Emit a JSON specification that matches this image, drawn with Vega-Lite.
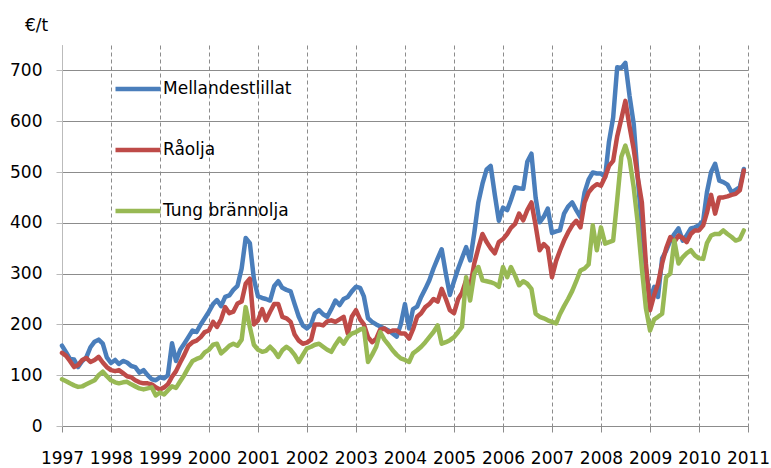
{
 "$schema": "https://vega.github.io/schema/vega-lite/v6.json",
 "width": 686,
 "height": 381,
 "autosize": {"type": "none"},
 "padding": {"left": 62, "top": 45, "right": 23, "bottom": 42},
 "background": "white",
 "config": {"font": "DejaVu Sans", "view": {"stroke": null}},
 "data": {"values": [
{"date":"1997-01-01","Mellandestlillat":158,"Råolja":144,"Tung brännolja":92},
{"date":"1997-02-01","Mellandestlillat":145,"Råolja":138,"Tung brännolja":88},
{"date":"1997-03-01","Mellandestlillat":132,"Råolja":128,"Tung brännolja":84},
{"date":"1997-04-01","Mellandestlillat":131,"Råolja":116,"Tung brännolja":80},
{"date":"1997-05-01","Mellandestlillat":116,"Råolja":120,"Tung brännolja":77},
{"date":"1997-06-01","Mellandestlillat":128,"Råolja":130,"Tung brännolja":78},
{"date":"1997-07-01","Mellandestlillat":135,"Råolja":134,"Tung brännolja":82},
{"date":"1997-08-01","Mellandestlillat":155,"Råolja":126,"Tung brännolja":86},
{"date":"1997-09-01","Mellandestlillat":166,"Råolja":130,"Tung brännolja":90},
{"date":"1997-10-01","Mellandestlillat":170,"Råolja":136,"Tung brännolja":100},
{"date":"1997-11-01","Mellandestlillat":162,"Råolja":125,"Tung brännolja":107},
{"date":"1997-12-01","Mellandestlillat":135,"Råolja":116,"Tung brännolja":98},
{"date":"1998-01-01","Mellandestlillat":124,"Råolja":110,"Tung brännolja":90},
{"date":"1998-02-01","Mellandestlillat":130,"Råolja":108,"Tung brännolja":86},
{"date":"1998-03-01","Mellandestlillat":122,"Råolja":110,"Tung brännolja":84},
{"date":"1998-04-01","Mellandestlillat":128,"Råolja":104,"Tung brännolja":86},
{"date":"1998-05-01","Mellandestlillat":125,"Råolja":98,"Tung brännolja":87},
{"date":"1998-06-01","Mellandestlillat":118,"Råolja":96,"Tung brännolja":82},
{"date":"1998-07-01","Mellandestlillat":116,"Råolja":90,"Tung brännolja":78},
{"date":"1998-08-01","Mellandestlillat":105,"Råolja":86,"Tung brännolja":74},
{"date":"1998-09-01","Mellandestlillat":110,"Råolja":84,"Tung brännolja":72},
{"date":"1998-10-01","Mellandestlillat":100,"Råolja":84,"Tung brännolja":74},
{"date":"1998-11-01","Mellandestlillat":92,"Råolja":82,"Tung brännolja":76},
{"date":"1998-12-01","Mellandestlillat":90,"Råolja":76,"Tung brännolja":60},
{"date":"1999-01-01","Mellandestlillat":96,"Råolja":72,"Tung brännolja":66},
{"date":"1999-02-01","Mellandestlillat":94,"Råolja":76,"Tung brännolja":62},
{"date":"1999-03-01","Mellandestlillat":100,"Råolja":82,"Tung brännolja":70},
{"date":"1999-04-01","Mellandestlillat":163,"Råolja":97,"Tung brännolja":78},
{"date":"1999-05-01","Mellandestlillat":128,"Råolja":108,"Tung brännolja":75},
{"date":"1999-06-01","Mellandestlillat":150,"Råolja":125,"Tung brännolja":88},
{"date":"1999-07-01","Mellandestlillat":162,"Råolja":140,"Tung brännolja":100},
{"date":"1999-08-01","Mellandestlillat":175,"Råolja":158,"Tung brännolja":115},
{"date":"1999-09-01","Mellandestlillat":188,"Råolja":165,"Tung brännolja":128},
{"date":"1999-10-01","Mellandestlillat":185,"Råolja":168,"Tung brännolja":132},
{"date":"1999-11-01","Mellandestlillat":200,"Råolja":175,"Tung brännolja":135},
{"date":"1999-12-01","Mellandestlillat":212,"Råolja":185,"Tung brännolja":145},
{"date":"2000-01-01","Mellandestlillat":225,"Råolja":188,"Tung brännolja":150},
{"date":"2000-02-01","Mellandestlillat":240,"Råolja":205,"Tung brännolja":160},
{"date":"2000-03-01","Mellandestlillat":248,"Råolja":195,"Tung brännolja":162},
{"date":"2000-04-01","Mellandestlillat":236,"Råolja":210,"Tung brännolja":143},
{"date":"2000-05-01","Mellandestlillat":254,"Råolja":234,"Tung brännolja":150},
{"date":"2000-06-01","Mellandestlillat":257,"Råolja":222,"Tung brännolja":158},
{"date":"2000-07-01","Mellandestlillat":268,"Råolja":225,"Tung brännolja":162},
{"date":"2000-08-01","Mellandestlillat":276,"Råolja":241,"Tung brännolja":158},
{"date":"2000-09-01","Mellandestlillat":310,"Råolja":245,"Tung brännolja":170},
{"date":"2000-10-01","Mellandestlillat":370,"Råolja":280,"Tung brännolja":234},
{"date":"2000-11-01","Mellandestlillat":360,"Råolja":290,"Tung brännolja":195},
{"date":"2000-12-01","Mellandestlillat":290,"Råolja":200,"Tung brännolja":160},
{"date":"2001-01-01","Mellandestlillat":255,"Råolja":208,"Tung brännolja":150},
{"date":"2001-02-01","Mellandestlillat":252,"Råolja":230,"Tung brännolja":146},
{"date":"2001-03-01","Mellandestlillat":250,"Råolja":208,"Tung brännolja":148},
{"date":"2001-04-01","Mellandestlillat":247,"Råolja":225,"Tung brännolja":156},
{"date":"2001-05-01","Mellandestlillat":275,"Råolja":240,"Tung brännolja":148},
{"date":"2001-06-01","Mellandestlillat":285,"Råolja":240,"Tung brännolja":136},
{"date":"2001-07-01","Mellandestlillat":272,"Råolja":215,"Tung brännolja":149},
{"date":"2001-08-01","Mellandestlillat":268,"Råolja":212,"Tung brännolja":156},
{"date":"2001-09-01","Mellandestlillat":265,"Råolja":205,"Tung brännolja":150},
{"date":"2001-10-01","Mellandestlillat":240,"Råolja":180,"Tung brännolja":140},
{"date":"2001-11-01","Mellandestlillat":215,"Råolja":168,"Tung brännolja":126},
{"date":"2001-12-01","Mellandestlillat":198,"Råolja":162,"Tung brännolja":140},
{"date":"2002-01-01","Mellandestlillat":192,"Råolja":164,"Tung brännolja":153},
{"date":"2002-02-01","Mellandestlillat":200,"Råolja":170,"Tung brännolja":156},
{"date":"2002-03-01","Mellandestlillat":222,"Råolja":200,"Tung brännolja":160},
{"date":"2002-04-01","Mellandestlillat":228,"Råolja":200,"Tung brännolja":162},
{"date":"2002-05-01","Mellandestlillat":220,"Råolja":198,"Tung brännolja":156},
{"date":"2002-06-01","Mellandestlillat":215,"Råolja":206,"Tung brännolja":150},
{"date":"2002-07-01","Mellandestlillat":230,"Råolja":208,"Tung brännolja":146},
{"date":"2002-08-01","Mellandestlillat":247,"Råolja":205,"Tung brännolja":160},
{"date":"2002-09-01","Mellandestlillat":238,"Råolja":210,"Tung brännolja":172},
{"date":"2002-10-01","Mellandestlillat":250,"Råolja":215,"Tung brännolja":162},
{"date":"2002-11-01","Mellandestlillat":254,"Råolja":182,"Tung brännolja":175},
{"date":"2002-12-01","Mellandestlillat":265,"Råolja":215,"Tung brännolja":182},
{"date":"2003-01-01","Mellandestlillat":274,"Råolja":228,"Tung brännolja":185},
{"date":"2003-02-01","Mellandestlillat":272,"Råolja":210,"Tung brännolja":190},
{"date":"2003-03-01","Mellandestlillat":255,"Råolja":200,"Tung brännolja":192},
{"date":"2003-04-01","Mellandestlillat":212,"Råolja":175,"Tung brännolja":126},
{"date":"2003-05-01","Mellandestlillat":205,"Råolja":165,"Tung brännolja":140},
{"date":"2003-06-01","Mellandestlillat":200,"Råolja":172,"Tung brännolja":156},
{"date":"2003-07-01","Mellandestlillat":196,"Råolja":190,"Tung brännolja":185},
{"date":"2003-08-01","Mellandestlillat":192,"Råolja":192,"Tung brännolja":170},
{"date":"2003-09-01","Mellandestlillat":188,"Råolja":185,"Tung brännolja":160},
{"date":"2003-10-01","Mellandestlillat":182,"Råolja":188,"Tung brännolja":149},
{"date":"2003-11-01","Mellandestlillat":176,"Råolja":188,"Tung brännolja":140},
{"date":"2003-12-01","Mellandestlillat":200,"Råolja":182,"Tung brännolja":133},
{"date":"2004-01-01","Mellandestlillat":240,"Råolja":182,"Tung brännolja":130},
{"date":"2004-02-01","Mellandestlillat":192,"Råolja":172,"Tung brännolja":126},
{"date":"2004-03-01","Mellandestlillat":230,"Råolja":190,"Tung brännolja":143},
{"date":"2004-04-01","Mellandestlillat":235,"Råolja":215,"Tung brännolja":149},
{"date":"2004-05-01","Mellandestlillat":254,"Råolja":222,"Tung brännolja":156},
{"date":"2004-06-01","Mellandestlillat":270,"Råolja":234,"Tung brännolja":165},
{"date":"2004-07-01","Mellandestlillat":287,"Råolja":240,"Tung brännolja":175},
{"date":"2004-08-01","Mellandestlillat":310,"Råolja":250,"Tung brännolja":185},
{"date":"2004-09-01","Mellandestlillat":330,"Råolja":245,"Tung brännolja":198},
{"date":"2004-10-01","Mellandestlillat":348,"Råolja":270,"Tung brännolja":162},
{"date":"2004-11-01","Mellandestlillat":300,"Råolja":250,"Tung brännolja":165},
{"date":"2004-12-01","Mellandestlillat":258,"Råolja":228,"Tung brännolja":169},
{"date":"2005-01-01","Mellandestlillat":285,"Råolja":222,"Tung brännolja":175},
{"date":"2005-02-01","Mellandestlillat":310,"Råolja":250,"Tung brännolja":185},
{"date":"2005-03-01","Mellandestlillat":330,"Råolja":262,"Tung brännolja":195},
{"date":"2005-04-01","Mellandestlillat":352,"Råolja":287,"Tung brännolja":293},
{"date":"2005-05-01","Mellandestlillat":326,"Råolja":274,"Tung brännolja":247},
{"date":"2005-06-01","Mellandestlillat":380,"Råolja":320,"Tung brännolja":300},
{"date":"2005-07-01","Mellandestlillat":440,"Råolja":350,"Tung brännolja":313},
{"date":"2005-08-01","Mellandestlillat":477,"Råolja":378,"Tung brännolja":287},
{"date":"2005-09-01","Mellandestlillat":505,"Råolja":362,"Tung brännolja":285},
{"date":"2005-10-01","Mellandestlillat":512,"Råolja":350,"Tung brännolja":283},
{"date":"2005-11-01","Mellandestlillat":455,"Råolja":340,"Tung brännolja":280},
{"date":"2005-12-01","Mellandestlillat":404,"Råolja":362,"Tung brännolja":274},
{"date":"2006-01-01","Mellandestlillat":430,"Råolja":368,"Tung brännolja":313},
{"date":"2006-02-01","Mellandestlillat":425,"Råolja":378,"Tung brännolja":293},
{"date":"2006-03-01","Mellandestlillat":445,"Råolja":390,"Tung brännolja":313},
{"date":"2006-04-01","Mellandestlillat":470,"Råolja":398,"Tung brännolja":296},
{"date":"2006-05-01","Mellandestlillat":468,"Råolja":418,"Tung brännolja":277},
{"date":"2006-06-01","Mellandestlillat":467,"Råolja":405,"Tung brännolja":285},
{"date":"2006-07-01","Mellandestlillat":520,"Råolja":425,"Tung brännolja":280},
{"date":"2006-08-01","Mellandestlillat":536,"Råolja":440,"Tung brännolja":270},
{"date":"2006-09-01","Mellandestlillat":450,"Råolja":395,"Tung brännolja":221},
{"date":"2006-10-01","Mellandestlillat":401,"Råolja":346,"Tung brännolja":215},
{"date":"2006-11-01","Mellandestlillat":412,"Råolja":358,"Tung brännolja":212},
{"date":"2006-12-01","Mellandestlillat":428,"Råolja":350,"Tung brännolja":208},
{"date":"2007-01-01","Mellandestlillat":380,"Råolja":293,"Tung brännolja":205},
{"date":"2007-02-01","Mellandestlillat":383,"Råolja":325,"Tung brännolja":202},
{"date":"2007-03-01","Mellandestlillat":385,"Råolja":345,"Tung brännolja":220},
{"date":"2007-04-01","Mellandestlillat":418,"Råolja":365,"Tung brännolja":236},
{"date":"2007-05-01","Mellandestlillat":432,"Råolja":381,"Tung brännolja":250},
{"date":"2007-06-01","Mellandestlillat":440,"Råolja":395,"Tung brännolja":266},
{"date":"2007-07-01","Mellandestlillat":425,"Råolja":404,"Tung brännolja":285},
{"date":"2007-08-01","Mellandestlillat":411,"Råolja":391,"Tung brännolja":306},
{"date":"2007-09-01","Mellandestlillat":460,"Råolja":440,"Tung brännolja":310},
{"date":"2007-10-01","Mellandestlillat":485,"Råolja":460,"Tung brännolja":318},
{"date":"2007-11-01","Mellandestlillat":499,"Råolja":470,"Tung brännolja":395},
{"date":"2007-12-01","Mellandestlillat":497,"Råolja":476,"Tung brännolja":346},
{"date":"2008-01-01","Mellandestlillat":497,"Råolja":473,"Tung brännolja":391},
{"date":"2008-02-01","Mellandestlillat":490,"Råolja":490,"Tung brännolja":359},
{"date":"2008-03-01","Mellandestlillat":560,"Råolja":512,"Tung brännolja":362},
{"date":"2008-04-01","Mellandestlillat":607,"Råolja":522,"Tung brännolja":365},
{"date":"2008-05-01","Mellandestlillat":706,"Råolja":570,"Tung brännolja":445},
{"date":"2008-06-01","Mellandestlillat":705,"Råolja":605,"Tung brännolja":530},
{"date":"2008-07-01","Mellandestlillat":715,"Råolja":640,"Tung brännolja":552},
{"date":"2008-08-01","Mellandestlillat":650,"Råolja":590,"Tung brännolja":525},
{"date":"2008-09-01","Mellandestlillat":595,"Råolja":545,"Tung brännolja":470},
{"date":"2008-10-01","Mellandestlillat":490,"Råolja":490,"Tung brännolja":400},
{"date":"2008-11-01","Mellandestlillat":390,"Råolja":440,"Tung brännolja":310},
{"date":"2008-12-01","Mellandestlillat":310,"Råolja":320,"Tung brännolja":232},
{"date":"2009-01-01","Mellandestlillat":248,"Råolja":228,"Tung brännolja":188},
{"date":"2009-02-01","Mellandestlillat":274,"Råolja":258,"Tung brännolja":210},
{"date":"2009-03-01","Mellandestlillat":254,"Råolja":280,"Tung brännolja":215},
{"date":"2009-04-01","Mellandestlillat":330,"Råolja":320,"Tung brännolja":221},
{"date":"2009-05-01","Mellandestlillat":345,"Råolja":350,"Tung brännolja":293},
{"date":"2009-06-01","Mellandestlillat":365,"Råolja":372,"Tung brännolja":300},
{"date":"2009-07-01","Mellandestlillat":378,"Råolja":362,"Tung brännolja":365},
{"date":"2009-08-01","Mellandestlillat":389,"Råolja":375,"Tung brännolja":320},
{"date":"2009-09-01","Mellandestlillat":365,"Råolja":370,"Tung brännolja":332},
{"date":"2009-10-01","Mellandestlillat":375,"Råolja":362,"Tung brännolja":340},
{"date":"2009-11-01","Mellandestlillat":389,"Råolja":378,"Tung brännolja":346},
{"date":"2009-12-01","Mellandestlillat":391,"Råolja":385,"Tung brännolja":336},
{"date":"2010-01-01","Mellandestlillat":395,"Råolja":385,"Tung brännolja":330},
{"date":"2010-02-01","Mellandestlillat":404,"Råolja":395,"Tung brännolja":329},
{"date":"2010-03-01","Mellandestlillat":460,"Råolja":420,"Tung brännolja":360},
{"date":"2010-04-01","Mellandestlillat":500,"Råolja":455,"Tung brännolja":375},
{"date":"2010-05-01","Mellandestlillat":516,"Råolja":418,"Tung brännolja":378},
{"date":"2010-06-01","Mellandestlillat":483,"Råolja":450,"Tung brännolja":378},
{"date":"2010-07-01","Mellandestlillat":480,"Råolja":450,"Tung brännolja":385},
{"date":"2010-08-01","Mellandestlillat":475,"Råolja":452,"Tung brännolja":378},
{"date":"2010-09-01","Mellandestlillat":460,"Råolja":455,"Tung brännolja":372},
{"date":"2010-10-01","Mellandestlillat":465,"Råolja":457,"Tung brännolja":365},
{"date":"2010-11-01","Mellandestlillat":470,"Råolja":464,"Tung brännolja":368},
{"date":"2010-12-01","Mellandestlillat":506,"Råolja":503,"Tung brännolja":385}
 ]},
 "transform": [{"fold": ["Mellandestlillat", "Råolja", "Tung brännolja"], "as": ["serie", "value"]}],
 "mark": {"type": "line", "strokeWidth": 4.5, "strokeJoin": "round", "strokeCap": "round"},
 "encoding": {
  "x": {
   "field": "date", "type": "temporal",
   "scale": {"domain": [{"year": 1997, "month": 1, "date": 1}, {"year": 2011, "month": 1, "date": 1}]},
   "axis": {
    "title": null,
    "values": [{"year":1997},{"year":1998},{"year":1999},{"year":2000},{"year":2001},{"year":2002},{"year":2003},{"year":2004},{"year":2005},{"year":2006},{"year":2007},{"year":2008},{"year":2009},{"year":2010},{"year":2011}],
    "format": "%Y",
    "grid": true, "gridColor": "#8c8c8c", "gridDash": [4, 3], "gridWidth": 1,
    "domain": true, "domainColor": "#8c8c8c", "domainWidth": 1,
    "ticks": true, "tickColor": "#8c8c8c", "tickSize": 6, "tickWidth": 1,
    "labelFontSize": 17, "labelColor": "#000000", "labelPadding": 18,
    "labelFlush": false, "labelOverlap": false
   }
  },
  "y": {
   "field": "value", "type": "quantitative",
   "scale": {"domain": [0, 750], "nice": false},
   "axis": {
    "values": [0, 100, 200, 300, 400, 500, 600, 700],
    "title": "€/t", "titleAngle": 0, "titleX": -26, "titleY": -20,
    "titleAlign": "center", "titleBaseline": "middle",
    "titleFontSize": 17, "titleFontWeight": "normal", "titleColor": "#000000",
    "grid": true, "gridColor": "#8c8c8c", "gridWidth": 1,
    "domainColor": "#bbbbbb", "domainWidth": 1,
    "tickColor": "#bbbbbb", "tickSize": 6, "tickWidth": 1,
    "labelFontSize": 17, "labelColor": "#000000", "labelPadding": 14
   }
  },
  "color": {
   "field": "serie", "type": "nominal",
   "scale": {"domain": ["Mellandestlillat", "Råolja", "Tung brännolja"], "range": ["#4a7ebb", "#be4b48", "#98b954"]},
   "legend": {
    "orient": "none", "legendX": 51, "legendY": 19, "title": null,
    "symbolType": "stroke", "symbolSize": 2025, "symbolStrokeWidth": 4.5,
    "labelFontSize": 17, "labelColor": "#000000", "labelOffset": 0,
    "rowPadding": 27, "padding": 0
   }
  }
 }
}
